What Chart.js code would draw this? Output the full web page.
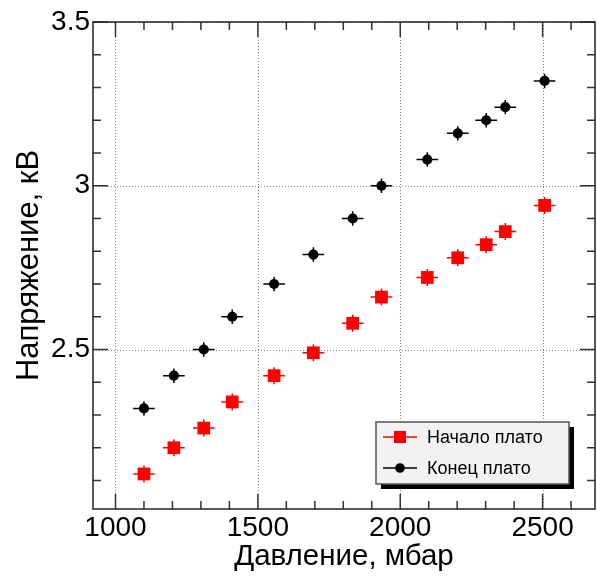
<!DOCTYPE html>
<html>
<head>
<meta charset="utf-8">
<script src="https://cdn.jsdelivr.net/npm/chart.js@4.4.1/dist/chart.umd.min.js"></script>
<style>
  html, body { margin: 0; padding: 0; background: #fff; overflow: hidden; }
  #wrap { width: 597px; height: 578px; overflow: hidden; }
</style>
</head>
<body>
<div id="wrap"><canvas id="plateau" width="604" height="578"></canvas></div>
<script>
// давление, мбар
const pressure = [1100, 1205, 1310, 1410, 1557, 1695, 1833, 1934, 2095, 2202, 2302, 2369, 2507];
// напряжение начала и конца плато, кВ
const startPlateau = [2.12, 2.2, 2.26, 2.34, 2.42, 2.49, 2.58, 2.66, 2.72, 2.78, 2.82, 2.86, 2.94];
const endPlateau = [2.32, 2.42, 2.5, 2.6, 2.7, 2.79, 2.9, 3.0, 3.08, 3.16, 3.2, 3.24, 3.32];
const pressureErr = [38, 38, 38, 38, 38, 38, 38, 38, 38, 38, 38, 38, 38];
const startErr = [0.026, 0.026, 0.026, 0.026, 0.026, 0.026, 0.026, 0.026, 0.026, 0.026, 0.026, 0.026, 0.026];
const endErr = [0.022, 0.022, 0.022, 0.022, 0.022, 0.022, 0.022, 0.022, 0.022, 0.022, 0.022, 0.022, 0.022];
const xTicks = [1000, 1500, 2000, 2500];
const yTicks = [2.5, 3, 3.5];
const seriesNames = ["Начало плато", "Конец плато"];

const FONT = "'Liberation Sans', Arial, sans-serif";

function toPoints(xs, ys) {
  return xs.map((x, i) => ({ x: x, y: ys[i] }));
}

const errors = [
  { dx: pressureErr, dy: startErr, color: "#ff0000" },
  { dx: pressureErr, dy: endErr, color: "#000000" },
];

// ROOT-like frame, dotted grid, inner ticks, error bars
const rootFrame = {
  id: "rootFrame",
  beforeDatasetsDraw(chart) {
    const ctx = chart.ctx;
    const a = chart.chartArea;
    const xs = chart.scales.x;
    const ys = chart.scales.y;
    ctx.save();

    // dotted grid
    ctx.strokeStyle = "#8a8a8a";
    ctx.lineWidth = 1;
    ctx.setLineDash([1, 2]);
    xTicks.forEach((v) => {
      const px = Math.round(xs.getPixelForValue(v)) + 0.5;
      ctx.beginPath();
      ctx.moveTo(px, a.top);
      ctx.lineTo(px, a.bottom);
      ctx.stroke();
    });
    yTicks.forEach((v) => {
      const py = Math.round(ys.getPixelForValue(v)) + 0.5;
      ctx.beginPath();
      ctx.moveTo(a.left, py);
      ctx.lineTo(a.right, py);
      ctx.stroke();
    });
    ctx.setLineDash([]);

    // ticks
    ctx.strokeStyle = "#333";
    ctx.lineWidth = 1.5;
    for (let v = Math.ceil(xs.min / 100) * 100; v <= xs.max; v += 100) {
      const px = xs.getPixelForValue(v);
      const len = v % 500 === 0 ? 15 : 8;
      ctx.beginPath();
      ctx.moveTo(px, a.bottom);
      ctx.lineTo(px, a.bottom - len);
      ctx.moveTo(px, a.top);
      ctx.lineTo(px, a.top + len);
      ctx.stroke();
    }
    for (let k = Math.ceil(ys.min * 10); k <= Math.round(ys.max * 10); k++) {
      const py = ys.getPixelForValue(k / 10);
      const len = k % 5 === 0 ? 15 : 8;
      ctx.beginPath();
      ctx.moveTo(a.left, py);
      ctx.lineTo(a.left + len, py);
      ctx.moveTo(a.right, py);
      ctx.lineTo(a.right - len, py);
      ctx.stroke();
    }

    // frame
    ctx.strokeStyle = "#222";
    ctx.lineWidth = 1.5;
    ctx.strokeRect(a.left, a.top, a.right - a.left, a.bottom - a.top);

    // error bars
    chart.data.datasets.forEach((ds, i) => {
      const e = errors[i];
      ctx.strokeStyle = e.color;
      ctx.lineWidth = 1.5;
      ds.data.forEach((p, j) => {
        const px = xs.getPixelForValue(p.x);
        const py = ys.getPixelForValue(p.y);
        ctx.beginPath();
        ctx.moveTo(xs.getPixelForValue(p.x - e.dx[j]), py);
        ctx.lineTo(xs.getPixelForValue(p.x + e.dx[j]), py);
        ctx.moveTo(px, ys.getPixelForValue(p.y - e.dy[j]));
        ctx.lineTo(px, ys.getPixelForValue(p.y + e.dy[j]));
        ctx.stroke();
      });
    });
    ctx.restore();
  },
  afterDraw(chart) {
    const ctx = chart.ctx;
    const box = { x: 376, y: 422, w: 193, h: 62 };
    ctx.save();
    // shadow
    ctx.fillStyle = "#000";
    ctx.fillRect(box.x + 5, box.y + 5, box.w, box.h);
    ctx.fillStyle = "#f2f2f2";
    ctx.fillRect(box.x, box.y, box.w, box.h);
    ctx.strokeStyle = "#555";
    ctx.lineWidth = 1.5;
    ctx.strokeRect(box.x, box.y, box.w, box.h);

    const rows = [437, 468];
    chart.data.datasets.forEach((ds, i) => {
      const y = rows[i];
      ctx.strokeStyle = errors[i].color;
      ctx.lineWidth = 1.5;
      ctx.beginPath();
      ctx.moveTo(383, y);
      ctx.lineTo(417, y);
      ctx.stroke();
      ctx.fillStyle = ds.backgroundColor;
      if (ds.pointStyle === "rect") {
        ctx.fillRect(394, y - 6, 12, 12);
      } else {
        ctx.beginPath();
        ctx.arc(400, y, 4.8, 0, Math.PI * 2);
        ctx.fill();
      }
      ctx.fillStyle = "#000";
      ctx.font = "18px " + FONT;
      ctx.textBaseline = "middle";
      ctx.fillText(ds.label, 427, y + 1);
    });
    ctx.restore();
  },
};

const ctx = document.getElementById("plateau");

new Chart(ctx, {
  type: "scatter",
  data: {
    datasets: [
      {
        label: seriesNames[0],
        data: toPoints(pressure, startPlateau),
        pointStyle: "rect",
        pointRadius: 9,
        pointHoverRadius: 9,
        backgroundColor: "#ff0000",
        borderWidth: 0,
      },
      {
        label: seriesNames[1],
        data: toPoints(pressure, endPlateau),
        pointStyle: "circle",
        pointRadius: 5.1,
        pointHoverRadius: 5.1,
        backgroundColor: "#000000",
        borderWidth: 0,
      },
    ],
  },
  options: {
    responsive: false,
    animation: false,
    events: [],
    layout: { padding: { top: 22, right: 4, bottom: 0, left: 0 } },
    plugins: {
      legend: { display: false },
      tooltip: { enabled: false },
    },
    scales: {
      x: {
        type: "linear",
        min: 921,
        max: 2684,
        afterBuildTicks: (scale) => {
          scale.ticks = xTicks.map((v) => ({ value: v }));
        },
        afterFit: (scale) => {
          scale.height = 69;
        },
        grid: { display: false, drawTicks: false },
        border: { display: false },
        ticks: {
          autoSkip: false,
          maxRotation: 0,
          padding: 2,
          color: "#000",
          font: { family: FONT, size: 28 },
          callback: (v) => String(v),
        },
        title: {
          display: true,
          text: "Давление, мбар",
          color: "#000",
          padding: { top: 0, bottom: 3 },
          font: { family: FONT, size: 29.5 },
        },
      },
      y: {
        type: "linear",
        min: 2.013,
        max: 3.5,
        afterBuildTicks: (scale) => {
          scale.ticks = yTicks.map((v) => ({ value: v }));
        },
        afterFit: (scale) => {
          scale.width = 93;
        },
        grid: { display: false, drawTicks: false },
        border: { display: false },
        ticks: {
          autoSkip: false,
          padding: 3,
          color: "#000",
          font: { family: FONT, size: 28 },
          callback: (v) => String(v),
        },
        title: {
          display: true,
          text: "Напряжение, кВ",
          color: "#000",
          padding: { top: 11, bottom: 0 },
          font: { family: FONT, size: 31 },
        },
      },
    },
  },
  plugins: [rootFrame],
});
</script>
</body>
</html>
